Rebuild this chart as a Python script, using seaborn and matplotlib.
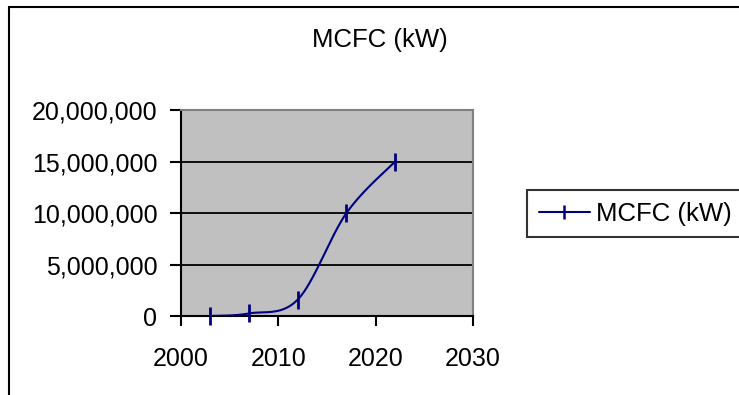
import numpy as np
import pandas as pd
import matplotlib
matplotlib.use("Agg")
import matplotlib.pyplot as plt
import seaborn as sns
from matplotlib.lines import Line2D
from matplotlib.patches import Rectangle
from matplotlib.ticker import FuncFormatter, MultipleLocator

# ---- data ----
years = [2003, 2007, 2012, 2017, 2022]
mcfc_kw = [0, 250000, 1600000, 10000000, 15000000]
series_name = "MCFC (kW)"
title = "MCFC (kW)"

sns.set_style("white")
plt.rcParams["font.family"] = ["Liberation Sans", "DejaVu Sans"]
plt.rcParams["text.color"] = "black"

W, H = 739, 395
fig = plt.figure(figsize=(W / 100, H / 100), dpi=100)
fig.patch.set_facecolor("white")

def fx(px):
    return px / W

def fy(py):
    return (H - py) / H

ax = fig.add_axes([fx(181), fy(316), fx(473) - fx(181), fy(110) - fy(316)])
ax.set_facecolor("#C0C0C0")

# Excel-style smoothed line (Catmull-Rom Bezier through the data points)
P = np.column_stack([years, mcfc_kw]).astype(float)
n = len(P)
xs, ys = [], []
t = np.linspace(0, 1, 40)
for i in range(n - 1):
    p0 = P[max(i - 1, 0)]
    p1 = P[i]
    p2 = P[i + 1]
    p3 = P[min(i + 2, n - 1)]
    c1 = p1 + (p2 - p0) / 6.0
    c2 = p2 - (p3 - p1) / 6.0
    b = ((1 - t) ** 3)[:, None] * p1 + (3 * (1 - t) ** 2 * t)[:, None] * c1 \
        + (3 * (1 - t) * t ** 2)[:, None] * c2 + (t ** 3)[:, None] * p2
    xs.extend(b[:, 0])
    ys.extend(b[:, 1])
curve = pd.DataFrame({"year": xs, "kw": ys})
pts = pd.DataFrame({"year": years, "kw": mcfc_kw})

navy = "#000080"
sns.lineplot(data=curve, x="year", y="kw", ax=ax, color=navy, linewidth=1.5,
             sort=False, estimator=None, legend=False, zorder=4)
ax.plot(pts["year"], pts["kw"], linestyle="none", marker="|", markersize=13,
        markeredgewidth=2.0, color=navy, zorder=5, clip_on=False)

ax.set_xlim(2000, 2030)
ax.set_ylim(0, 20000000)
ax.xaxis.set_major_locator(MultipleLocator(10))
ax.yaxis.set_major_locator(MultipleLocator(5000000))
ax.yaxis.set_major_formatter(FuncFormatter(lambda v, p: f"{int(v):,}"))
ax.set_xlabel("")
ax.set_ylabel("")

ax.yaxis.grid(True, color="black", linewidth=1.3)
ax.xaxis.grid(False)
ax.set_axisbelow(True)

for side in ["left", "bottom"]:
    ax.spines[side].set_color("black")
    ax.spines[side].set_linewidth(1.5)
for side in ["top", "right"]:
    ax.spines[side].set_color("#808080")
    ax.spines[side].set_linewidth(1.5)
    ax.spines[side].set_visible(True)

ax.tick_params(axis="y", direction="out", length=8, width=1.5, pad=9,
               labelsize=18, colors="black", left=True)
ax.tick_params(axis="x", direction="out", length=7, width=1.5, pad=15,
               labelsize=18, colors="black", bottom=True)

fig.text(fx(380), fy(46.5), title, ha="center", va="baseline", fontsize=18.5,
         color="black")

handle = Line2D([], [], color=navy, linewidth=1.5, marker="|", markersize=10,
                markeredgewidth=1.8)
leg = fig.legend([handle], [series_name], loc="center left",
                 bbox_to_anchor=(fx(527), fy(213.5)), fontsize=18.5,
                 frameon=True, fancybox=False, shadow=False,
                 handlelength=2.0, handletextpad=0.25, borderpad=0.45,
                 borderaxespad=0, labelcolor="black")
leg.get_frame().set_edgecolor("black")
leg.get_frame().set_linewidth(1.5)
leg.get_frame().set_facecolor("white")

fig.add_artist(Rectangle((fx(9), fy(900)), (1000) / W, (900 - 6.5) / H,
                         transform=fig.transFigure, fill=False,
                         edgecolor="black", linewidth=1.5, clip_on=False))

fig.savefig("out.png", dpi=100, facecolor="white")
